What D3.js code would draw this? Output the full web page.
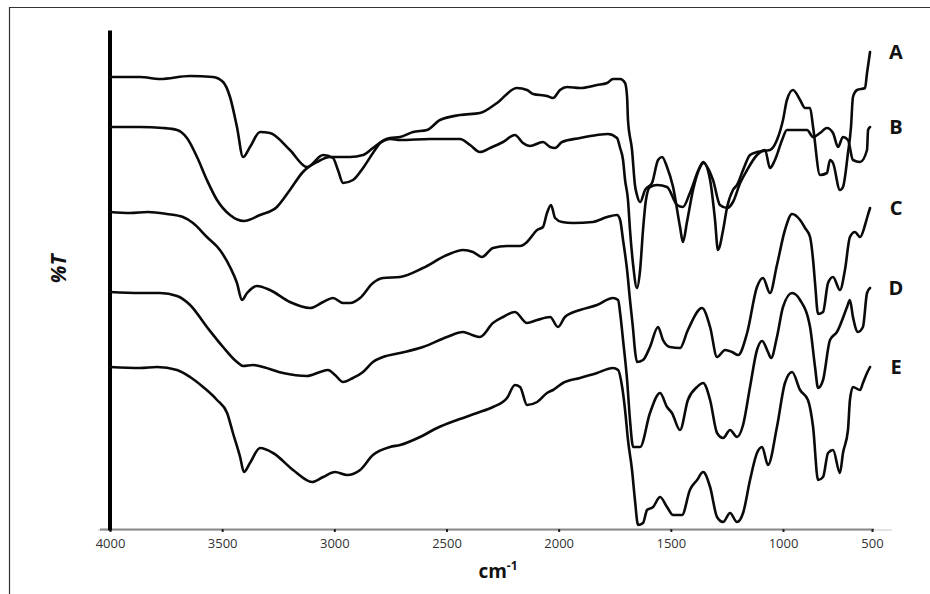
<!DOCTYPE html>
<html>
<head>
<meta charset="utf-8">
<script src="https://cdn.jsdelivr.net/npm/d3@7"></script>
<style>
  html, body { margin: 0; padding: 0; background: #fff; }
  svg { display: block; }
</style>
</head>
<body>
<svg id="chart" width="930" height="594"></svg>
<script>
// ---- Data (wavenumber cm-1, relative %T offset) ----
const seriesNames = ["A", "B", "C", "D", "E"];
const xTicks = [4000, 3500, 3000, 2500, 2000, 1500, 1000, 500];

const specA = [[4000,90.6],[3866,90.6],[3777,90.2],[3643,90.8],[3541,90.6],[3496,89.6],[3465,86.6],[3434,80.6],[3407,74.6],[3376,76.6],[3331,79.6],[3287,79.4],[3198,76.0],[3122,72.6],[3050,75.0],[3006,74.4],[2984,72.0],[2961,69.4],[2917,70.0],[2872,72.4],[2828,75.4],[2796,77.4],[2752,78.4],[2707,78.6],[2649,79.6],[2587,80.0],[2529,82.0],[2440,83.0],[2351,83.4],[2275,85.4],[2186,88.4],[2141,88.0],[2114,87.2],[2052,86.8],[2025,86.4],[1994,88.0],[1963,88.6],[1905,88.4],[1829,89.0],[1784,89.4],[1758,90.2],[1726,90.2],[1704,89.4],[1695,86.6],[1691,82.0],[1673,76.0],[1660,69.0],[1651,67.0],[1637,65.6],[1615,68.0],[1584,69.4],[1557,74.0],[1539,74.6],[1517,72.6],[1490,68.6],[1459,60.6],[1446,57.6],[1428,61.6],[1401,68.0],[1370,72.6],[1356,73.6],[1325,70.0],[1303,62.0],[1290,56.0],[1267,60.0],[1249,64.6],[1223,68.0],[1205,69.0],[1178,72.0],[1147,75.0],[1116,75.6],[1058,76.0],[1027,78.0],[1000,82.0],[978,86.0],[944,88.0],[904,86.0],[876,84.4],[848,84.4],[831,80.6],[792,71.0],[753,71.4],[736,74.0],[719,73.4],[680,68.0],[663,68.6],[635,75.4],[618,80.6],[607,86.6],[584,88.0],[539,88.4],[528,91.4],[511,95.6]];

const specB = [[4000,80.6],[3866,80.6],[3764,80.4],[3701,80.0],[3657,78.4],[3612,74.6],[3568,70.0],[3523,66.0],[3465,63.0],[3403,61.8],[3331,63.0],[3256,64.6],[3198,68.0],[3140,71.6],[3077,73.6],[3019,74.6],[2930,74.6],[2872,75.0],[2828,76.4],[2783,77.8],[2752,78.2],[2707,78.0],[2573,78.2],[2440,78.2],[2395,77.0],[2351,75.6],[2306,76.4],[2248,77.6],[2195,79.0],[2159,77.4],[2128,76.8],[2070,77.6],[2038,76.6],[2016,76.4],[1985,77.6],[1905,78.4],[1829,79.0],[1780,79.2],[1740,78.4],[1726,76.4],[1713,74.0],[1704,70.0],[1691,66.0],[1682,60.0],[1668,53.0],[1651,48.4],[1637,52.0],[1624,60.0],[1611,66.0],[1593,68.6],[1561,69.0],[1517,68.6],[1472,65.0],[1446,64.6],[1415,67.4],[1370,72.6],[1356,73.4],[1312,70.0],[1281,65.0],[1249,64.4],[1223,65.6],[1191,69.4],[1160,72.0],[1116,75.0],[1080,76.0],[1058,72.4],[1036,74.0],[1004,78.0],[978,80.0],[865,80.0],[831,78.6],[792,79.4],[753,80.4],[719,79.4],[691,76.6],[663,78.6],[635,78.0],[607,74.0],[567,73.6],[528,76.0],[522,80.0],[511,80.6]];

const specC = [[4000,63.6],[3911,63.4],[3831,63.6],[3746,63.2],[3675,62.6],[3630,61.4],[3568,58.6],[3510,56.0],[3465,52.6],[3434,49.4],[3412,46.0],[3389,47.4],[3345,48.8],[3287,48.0],[3198,45.6],[3108,44.4],[3050,45.6],[3006,46.4],[2961,45.4],[2930,45.4],[2885,46.4],[2828,49.4],[2783,50.4],[2707,50.6],[2605,52.4],[2498,55.0],[2426,56.0],[2382,55.6],[2342,54.6],[2293,56.4],[2230,56.8],[2172,56.8],[2141,57.6],[2096,60.0],[2070,60.6],[2052,63.4],[2034,65.0],[2016,62.4],[1985,61.6],[1936,61.4],[1847,61.6],[1784,62.6],[1740,63.0],[1726,62.0],[1713,58.0],[1695,52.0],[1682,46.0],[1668,40.0],[1660,36.0],[1651,33.6],[1624,34.0],[1593,36.6],[1557,40.6],[1535,38.0],[1504,36.6],[1459,36.4],[1424,40.0],[1361,44.4],[1325,40.6],[1294,34.6],[1258,36.0],[1227,35.6],[1200,35.0],[1160,39.4],[1116,48.6],[1089,50.4],[1058,47.4],[1027,53.0],[989,60.0],[949,63.2],[904,62.0],[876,60.4],[848,58.6],[831,54.0],[820,49.4],[803,43.2],[775,43.6],[747,49.4],[719,50.6],[680,48.0],[652,52.0],[624,58.6],[596,59.6],[567,58.6],[539,61.0],[528,62.4],[511,64.4]];

const specD = [[4000,47.6],[3866,47.4],[3777,47.4],[3701,46.8],[3643,45.0],[3568,40.6],[3496,36.6],[3434,33.6],[3407,32.8],[3363,33.0],[3318,32.6],[3229,31.4],[3122,30.8],[3064,31.6],[3028,32.0],[2997,31.0],[2961,29.6],[2917,30.4],[2872,31.6],[2828,33.6],[2783,34.6],[2707,35.4],[2605,36.6],[2498,38.6],[2426,39.6],[2386,39.0],[2351,38.6],[2293,41.4],[2248,42.6],[2195,43.6],[2141,41.4],[2096,42.0],[2038,42.6],[2003,40.6],[1972,42.6],[1905,44.0],[1829,45.0],[1758,46.4],[1735,46.0],[1726,43.4],[1713,38.0],[1695,30.0],[1682,22.0],[1668,16.6],[1637,16.6],[1593,23.4],[1548,27.4],[1517,24.6],[1495,23.4],[1459,20.0],[1424,26.0],[1383,28.6],[1356,29.4],[1325,26.0],[1294,19.4],[1267,18.4],[1236,20.0],[1205,18.6],[1178,21.0],[1147,28.6],[1116,36.0],[1093,37.8],[1067,35.6],[1053,34.4],[1027,38.6],[1000,44.6],[949,47.4],[904,46.0],[848,40.6],[820,32.6],[803,28.4],[775,30.0],[736,38.0],[697,39.6],[640,44.6],[624,46.0],[607,42.6],[579,39.6],[551,40.6],[528,47.4],[511,48.4]];

const specE = [[4000,32.6],[3866,32.4],[3790,32.6],[3701,32.0],[3643,30.6],[3585,28.6],[3523,26.0],[3478,23.4],[3452,19.4],[3420,14.6],[3403,11.6],[3376,13.4],[3331,16.4],[3273,15.4],[3184,12.0],[3099,9.6],[3050,10.6],[2997,11.6],[2943,11.0],[2885,12.0],[2828,15.0],[2752,16.6],[2707,17.0],[2618,18.6],[2542,20.4],[2453,22.0],[2364,23.4],[2293,24.6],[2230,26.4],[2195,29.0],[2172,28.6],[2141,25.0],[2096,25.6],[2052,27.4],[2025,28.0],[1981,29.4],[1905,30.4],[1829,31.4],[1758,32.4],[1735,32.0],[1717,28.6],[1704,24.0],[1691,18.0],[1673,12.0],[1660,6.0],[1646,1.0],[1624,1.4],[1606,4.0],[1579,4.6],[1548,6.6],[1517,4.6],[1490,3.0],[1450,3.0],[1415,8.0],[1383,10.0],[1356,11.6],[1325,8.6],[1294,2.6],[1267,1.6],[1236,3.4],[1205,1.6],[1178,3.4],[1147,10.0],[1116,15.4],[1093,16.6],[1067,13.0],[1027,20.6],[989,29.4],[949,31.6],[904,28.0],[860,26.0],[831,20.6],[803,10.0],[775,10.6],[747,15.4],[719,16.0],[680,11.4],[663,15.4],[635,20.0],[624,26.0],[607,28.6],[567,28.0],[551,29.4],[528,31.4],[511,32.6]];

const spectra = [specA, specB, specC, specD, specE];

// ---- Drawing ----
const svg = d3.select("#chart");

// outer frame (top + left edges of the figure box)
svg.append("path")
  .attr("d", "M9.5,594 V7.5 H930")
  .attr("fill", "none")
  .attr("stroke", "#333")
  .attr("stroke-width", 1.2);

const x = d3.scaleLinear().domain([4000, 1000, 500]).range([110, 783, 872]);
const y = d3.scaleLinear().domain([0, 100]).range([530, 30]);

// faint axis extension
svg.append("line")
  .attr("x1", 98).attr("x2", 892)
  .attr("y1", y(0)).attr("y2", y(0))
  .attr("stroke", "#e4e4e4").attr("stroke-width", 2);

// x axis
const xAxis = d3.axisBottom(x)
  .tickValues(xTicks)
  .tickFormat(d3.format("d"))
  .tickSizeOuter(0)
  .tickSize(3)
  .tickPadding(7);

const gx = svg.append("g")
  .attr("transform", `translate(0,${y(0) - 1})`)
  .call(xAxis);
gx.select(".domain")
  .attr("d", `M${x(4000) - 10},0.5 H${x(500) + 2}`)
  .attr("stroke", "#8a8a8a").attr("stroke-width", 2);
gx.selectAll(".tick line").attr("stroke", "#222").attr("stroke-width", 2);
gx.selectAll(".tick text")
  .attr("fill", "#333")
  .style("font-family", "'Open Sans', 'Noto Sans', sans-serif")
  .style("font-size", "13px");

// y axis (thick bar, no ticks)
const yAxis = d3.axisLeft(y).tickValues([]).tickSizeOuter(0);
const gy = svg.append("g")
  .attr("transform", `translate(${x(4000) - 0.5},0)`)
  .call(yAxis);
gy.select(".domain").attr("stroke", "#000").attr("stroke-width", 4);

// spectra
const line = d3.line()
  .x(d => x(d[0]))
  .y(d => y(d[1]))
  .curve(d3.curveMonotoneX);

svg.append("g")
  .selectAll("path")
  .data(spectra)
  .join("path")
  .attr("d", line)
  .attr("fill", "none")
  .attr("stroke", "#0a0a0a")
  .attr("stroke-width", 2.6)
  .attr("stroke-linejoin", "round")
  .attr("stroke-linecap", "round");

// series labels at the right end of each curve
svg.append("g")
  .selectAll("text")
  .data(seriesNames)
  .join("text")
  .attr("x", 896)
  .attr("y", (d, i) => y(spectra[i][spectra[i].length - 1][1]))
  .attr("dy", "0.36em")
  .attr("text-anchor", "middle")
  .style("font-family", "'Open Sans', 'Noto Sans', sans-serif")
  .style("font-weight", "700")
  .style("font-size", "20px")
  .attr("fill", "#111")
  .text(d => d);

// axis titles
const xt = svg.append("text")
  .attr("x", 498).attr("y", 578)
  .attr("text-anchor", "middle")
  .style("font-family", "'Open Sans', 'Noto Sans', sans-serif")
  .style("font-weight", "700")
  .style("font-size", "19px")
  .attr("fill", "#111");
xt.append("tspan").text("cm");
xt.append("tspan").attr("dy", -8).style("font-size", "12px").text("-1");

svg.append("text")
  .attr("transform", "translate(66,269) rotate(-90)")
  .attr("text-anchor", "middle")
  .style("font-family", "'Open Sans', 'Noto Sans', sans-serif")
  .style("font-weight", "700")
  .style("font-style", "italic")
  .style("font-size", "21px")
  .attr("fill", "#111")
  .text("%T");
</script>
</body>
</html>
